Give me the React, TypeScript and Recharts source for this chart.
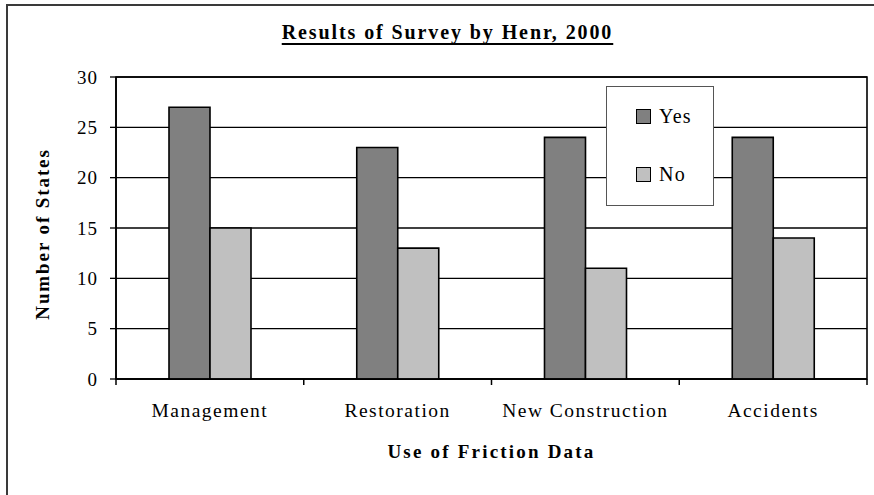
import { BarChart, Bar, XAxis, YAxis, CartesianGrid, Legend, ReferenceArea } from 'recharts'

const CATEGORIES = ['Management', 'Restoration', 'New Construction', 'Accidents']
const SERIES = ['Yes', 'No']
const YES = [27, 23, 24, 24]
const NO = [15, 13, 11, 14]
const Y_TICKS = [0, 5, 10, 15, 20, 25, 30]

const data = CATEGORIES.map((name, i) => ({ name, Yes: YES[i], No: NO[i] }))

const FONT = "'Times New Roman', 'Liberation Serif', serif"
const TICK_SIZE = 6
const TICK_MARGIN = 19

function CategoryTick({ x, y, payload, index }: any) {
  const half = payload?.offset ?? 0
  const axisY = y - TICK_SIZE - TICK_MARGIN
  const last = index === CATEGORIES.length - 1
  return (
    <g>
      <line x1={x - half} x2={x - half} y1={axisY} y2={axisY + TICK_SIZE} stroke="#000" strokeWidth={1.5} />
      {last && (
        <line x1={x + half} x2={x + half} y1={axisY} y2={axisY + TICK_SIZE} stroke="#000" strokeWidth={1.5} />
      )}
      <text x={x} y={y} dy="0.68em" textAnchor="middle" fontFamily={FONT} fontSize={19.5} letterSpacing={1.5} fill="#000">
        {payload.value}
      </text>
    </g>
  )
}

function YTitle({ viewBox }: any) {
  const cx = 42
  const cy = viewBox.y + viewBox.height / 2 + 6
  return (
    <text
      x={cx} y={cy} transform={`rotate(-90 ${cx} ${cy})`}
      textAnchor="middle" dominantBaseline="central"
      fontFamily={FONT} fontSize={19} fontWeight="bold" letterSpacing={1.9} fill="#000"
    >
      Number of States
    </text>
  )
}

function XTitle({ viewBox }: any) {
  return (
    <text
      x={viewBox.x + viewBox.width / 2} y={viewBox.y + 79}
      textAnchor="middle" fontFamily={FONT} fontSize={19} fontWeight="bold" letterSpacing={2.2} fill="#000"
    >
      Use of Friction Data
    </text>
  )
}

function LegendBox({ payload }: any) {
  const items = SERIES.map((s) => (payload ?? []).find((p: any) => p.value === s)).filter(Boolean)
  return (
    <div style={{ width: 108, height: 120, border: '1px solid #555', background: '#fff', boxSizing: 'border-box', position: 'relative' }}>
      {items.map((p: any, i: number) => (
        <div key={p.value} style={{ position: 'absolute', left: 29, top: 21 + i * 58, display: 'flex', alignItems: 'center' }}>
          <div style={{ width: 13, height: 13, background: p.color, border: '1.5px solid #000' }} />
          <span style={{ marginLeft: 8, fontFamily: FONT, fontSize: 20, letterSpacing: 1.2, lineHeight: '16px', color: '#000' }}>{p.value}</span>
        </div>
      ))}
    </div>
  )
}

export default function App() {
  return (
    <div style={{ position: 'relative', width: 874, height: 495, overflow: 'hidden', background: '#fff', fontFamily: FONT }}>
      <style>{'body{margin:0}'}</style>
      <div style={{ position: 'absolute', left: 6, top: 4, width: 920, height: 600, border: '2px solid #3a3a3a' }} />
      <div
        style={{
          position: 'absolute', left: 0, width: 895, top: 20, textAlign: 'center',
          fontFamily: FONT, fontSize: 20, fontWeight: 'bold', letterSpacing: 1.9,
          textDecoration: 'underline', textDecorationThickness: 2, textUnderlineOffset: 4, lineHeight: '24px',
        }}
      >
        Results of Survey by Henr, 2000
      </div>
      <BarChart
        width={874}
        height={495}
        data={data}
        margin={{ top: 77, right: 7, left: 8, bottom: 8 }}
        barGap={0}
        barSize={41}
        style={{ position: 'absolute', left: 0, top: 0, fontFamily: FONT }}
      >
        <CartesianGrid vertical={false} stroke="#000" strokeWidth={1.3} />
        <XAxis
          dataKey="name"
          height={108}
          axisLine={{ stroke: '#000', strokeWidth: 1.6 }}
          tickLine={{ stroke: 'none' }}
          tickSize={TICK_SIZE}
          tickMargin={TICK_MARGIN}
          tick={<CategoryTick />}
          interval={0}
          label={{ content: <XTitle /> }}
        />
        <YAxis
          width={108}
          domain={[0, 30]}
          ticks={Y_TICKS}
          interval={0}
          axisLine={{ stroke: '#000', strokeWidth: 1.6 }}
          tickLine={{ stroke: '#000', strokeWidth: 1.3 }}
          tickSize={TICK_SIZE}
          tickMargin={12}
          tick={{ fill: '#000', fontSize: 19, letterSpacing: 1, fontFamily: FONT }}
          label={{ content: <YTitle /> }}
        />
        <ReferenceArea y1={0} y2={30} fill="none" stroke="#000" strokeWidth={1.6} fillOpacity={0} />
        <Legend
          layout="vertical"
          align="center"
          verticalAlign="middle"
          content={<LegendBox />}
          wrapperStyle={{ position: 'absolute', left: 606, top: 86, width: 108, height: 120 }}
        />
        <Bar dataKey="Yes" fill="#808080" stroke="#000" strokeWidth={1.6} isAnimationActive={false} />
        <Bar dataKey="No" fill="#c0c0c0" stroke="#000" strokeWidth={1.6} isAnimationActive={false} />
      </BarChart>
    </div>
  )
}
